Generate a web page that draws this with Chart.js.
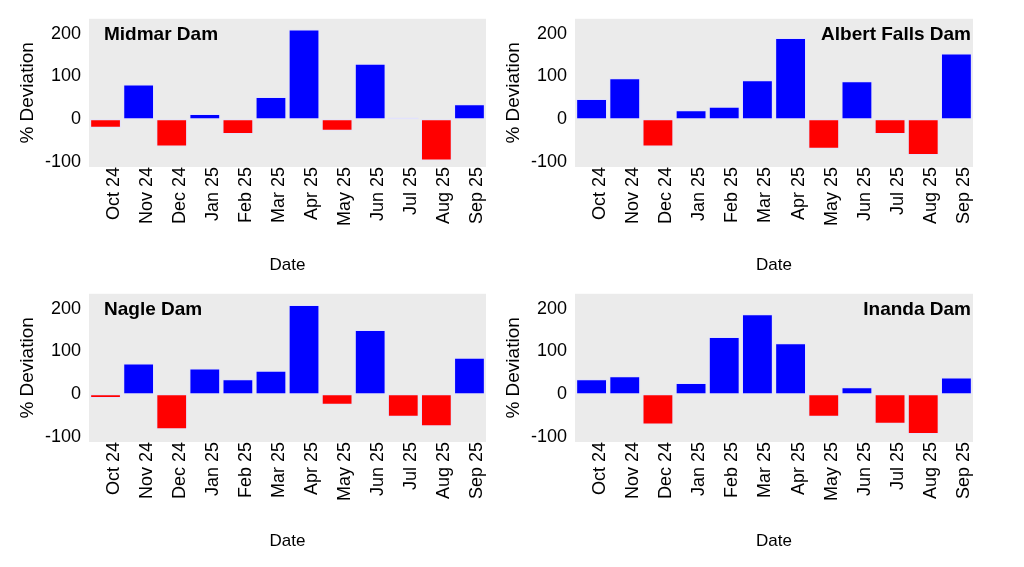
<!DOCTYPE html>
<html>
<head>
<meta charset="utf-8">
<script src="https://cdn.jsdelivr.net/npm/chart.js@4.4.1/dist/chart.umd.min.js"></script>
<style>
    body { margin: 0; background: #fff; }
    #wrap { position: relative; width: 1024px; height: 567px; }
    .panel { position: absolute; }
</style>
</head>
<body>
<div id="wrap">
    <div class="panel" style="left:0;top:0;width:500px;height:283px"><canvas id="c1"></canvas></div>
    <div class="panel" style="left:500px;top:0;width:524px;height:283px"><canvas id="c2"></canvas></div>
    <div class="panel" style="left:0;top:275px;width:500px;height:292px"><canvas id="c3"></canvas></div>
    <div class="panel" style="left:500px;top:275px;width:524px;height:292px"><canvas id="c4"></canvas></div>
</div>
<script>
// data
const months = ["Oct 24", "Nov 24", "Dec 24", "Jan 25", "Feb 25", "Mar 25",
    "Apr 25", "May 25", "Jun 25", "Jul 25", "Aug 25", "Sep 25"];
const midmar = [-20, 81, -64, 12, -35, 52, 210, -27, 130, 4, -97, 35];
const albertFalls = [47, 96, -64, 21, 29, 91, 190, -69, 89, -35, -84, 154];
const nagle = [-9, 72, -82, 60, 35, 55, 209, -25, 150, -53, -75, 85];
const inanda = [35, 42, -71, 26, 134, 187, 119, -53, 16, -69, -93, 39];
const yTicks = [-100, 0, 100, 200];

const FONT = "'Liberation Sans', Arial, sans-serif";

// grey panel background + dam name inside the plot
const panelPlugin = {
    id: "panel",
    beforeDraw(chart, args, opts) {
        const a = chart.chartArea;
        const ctx = chart.ctx;
        ctx.save();
        ctx.fillStyle = "#ebebeb";
        ctx.fillRect(a.left, a.top, a.right - a.left, a.bottom - a.top);
        ctx.restore();
    },
    afterDatasetsDraw(chart, args, opts) {
        const a = chart.chartArea;
        const ctx = chart.ctx;
        ctx.save();
        ctx.font = "bold 19px " + FONT;
        ctx.fillStyle = "#000";
        ctx.textBaseline = "middle";
        if (opts.align === "right") {
            ctx.textAlign = "right";
            ctx.fillText(opts.text, a.right - 2, a.top + 16);
        } else {
            ctx.textAlign = "left";
            ctx.fillText(opts.text, a.left + 15, a.top + 16);
        }
        ctx.restore();
    }
};

function makeChart(id, name, values, align, leftW, rightPad, yTitlePad, xHeight, dateBottom) {
    return new Chart(document.getElementById(id), {
        type: "bar",
        data: {
            labels: months,
            datasets: [{
                data: values,
                backgroundColor: values.map(v => v < 0 ? "#ff0000" : "#0000ff"),
                borderColor: "rgba(225,225,255,0.9)",
                borderWidth: 1,
                borderSkipped: false,
                categoryPercentage: 1,
                barPercentage: 0.93,
            }],
        },
        options: {
            responsive: true,
            maintainAspectRatio: false,
            animation: false,
            layout: { padding: { left: 0, right: rightPad, top: 17, bottom: 0 } },
            plugins: {
                legend: { display: false },
                tooltip: { enabled: false },
                panel: { text: name, align: align },
            },
            scales: {
                x: {
                    grid: { display: false, drawTicks: false },
                    border: { display: false },
                    ticks: {
                        color: "#000",
                        font: { family: FONT, size: 18 },
                        minRotation: 90,
                        maxRotation: 90,
                        padding: 0,
                        labelOffset: 8,
                        autoSkip: false,
                    },
                    title: {
                        display: true,
                        text: "Date",
                        color: "#000",
                        font: { family: FONT, size: 17 },
                        padding: { top: 0, bottom: dateBottom },
                    },
                    afterFit(scale) { scale.height = xHeight; },
                },
                y: {
                    min: -112,
                    max: 235,
                    grid: { display: false, drawTicks: false },
                    border: { display: false },
                    ticks: {
                        color: "#000",
                        font: { family: FONT, size: 18 },
                        padding: 8,
                    },
                    afterBuildTicks(scale) {
                        scale.ticks = yTicks.map(v => ({ value: v }));
                    },
                    title: {
                        display: true,
                        text: "% Deviation",
                        color: "#000",
                        font: { family: FONT, size: 19 },
                        padding: { top: yTitlePad, bottom: 0 },
                    },
                    afterFit(scale) { scale.width = leftW; },
                },
            },
        },
        plugins: [panelPlugin],
    });
}

makeChart("c1", "Midmar Dam", midmar, "left", 89, 14, 16, 116, 7);
makeChart("c2", "Albert Falls Dam", albertFalls, "right", 75, 51, 2, 116, 7);
makeChart("c3", "Nagle Dam", nagle, "left", 89, 14, 16, 125, 15);
makeChart("c4", "Inanda Dam", inanda, "right", 75, 51, 2, 125, 15);
</script>
</body>
</html>
